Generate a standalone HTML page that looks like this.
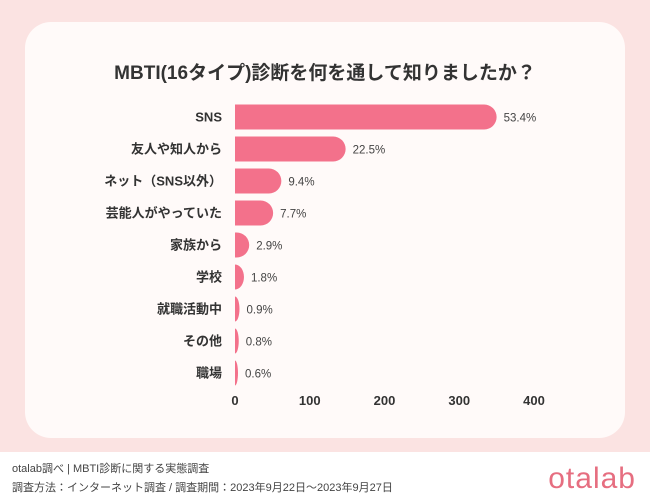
<!DOCTYPE html>
<html><head><meta charset="utf-8"><style>
body{margin:0;width:650px;height:498px;background:#fff;font-family:"Liberation Sans","Noto Sans CJK JP",sans-serif;overflow:hidden;position:relative}
#bg{position:absolute;left:0;top:0;width:650px;height:452px;background:#fbe3e2}
#card{position:absolute;left:25px;top:22px;width:600px;height:416px;background:#fffaf9;border-radius:26px}
#title{position:absolute;left:0;top:58px;width:650px;text-align:center;font-size:19px;font-weight:bold;color:#333}
.ft{position:absolute;left:12px;font-size:11px;color:#444}
#logo{position:absolute;right:14px;top:462px;font-size:30px;color:#e66e80;letter-spacing:1px}
</style></head><body>
<div id="bg"></div>
<div id="card"></div>
<div id="title">MBTI(16タイプ)診断を何を通して知りましたか？</div>
<svg id="chart" width="650" height="498" style="position:absolute;left:0;top:0"></svg>
<div class="ft" style="top:460px">otalab調べ | MBTI診断に関する実態調査</div>
<div class="ft" style="top:479px">調査方法：インターネット調査 / 調査期間：2023年9月22日〜2023年9月27日</div>
<div id="logo">otalab</div>
<script>
const categories=["SNS","友人や知人から","ネット（SNS以外）","芸能人がやっていた","家族から","学校","就職活動中","その他","職場"];
const values=[350,148,62,51,19,12,6,5,4];
const pctLabels=["53.4%","22.5%","9.4%","7.7%","2.9%","1.8%","0.9%","0.8%","0.6%"];
const ticks=[0,100,200,300,400];
const svg=document.getElementById('chart');const NS='http://www.w3.org/2000/svg';
const x=v=>235+v*0.7475;
const yc=i=>117+i*32;
function mk(t,a){const e=document.createElementNS(NS,t);for(const k in a)e.setAttribute(k,a[k]);svg.appendChild(e);return e;}
categories.forEach((c,i)=>{
 const w=x(values[i])-x(0),h=25,r=Math.min(12.5,w);
 const p=mk('path',{d:`M${x(0)},${yc(i)-h/2} H${x(0)+w-r} A${r},${h/2} 0 0 1 ${x(0)+w-r},${yc(i)+h/2} H${x(0)} Z`,fill:'#f3718b'});
 
 
 const l=mk('text',{x:222,y:yc(i)+4.5,'text-anchor':'end','font-size':13,'font-weight':'bold',fill:'#333'});l.textContent=c;
 
 
 const v=mk('text',{x:x(values[i])+7,y:yc(i)+4.5,'font-size':11.5,fill:'#444'});v.textContent=pctLabels[i];
 
 
});
ticks.forEach(t=>{const e=mk('text',{x:x(t),y:405,'text-anchor':'middle','font-size':13,'font-weight':'bold',fill:'#333'});e.textContent=t;
 
 });
</script>
</body></html>
